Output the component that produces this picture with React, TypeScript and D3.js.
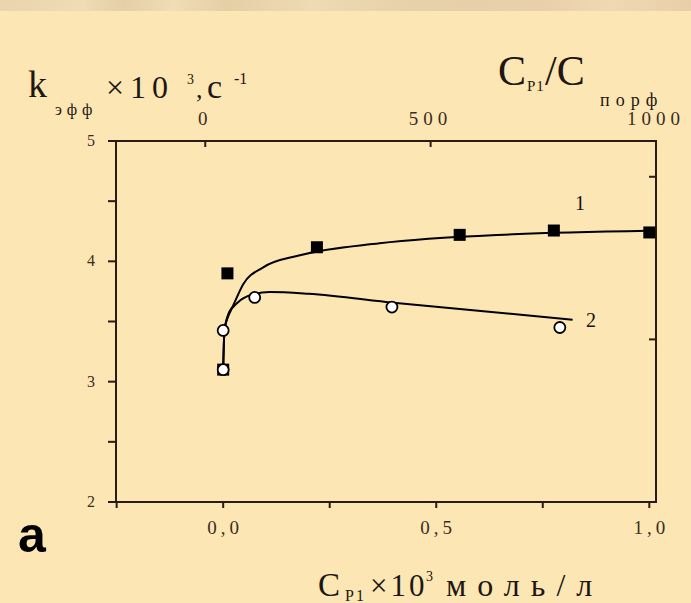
import React from "react";
import * as d3 from "d3";

// Measured points: curve 1 (filled squares) and curve 2 (open circles)
const series1X = [0, 0.01, 0.22, 0.555, 0.776, 1.0];
const series1Y = [3.1, 3.9, 4.117, 4.22, 4.256, 4.24];
const series2X = [0, 0.0, 0.074, 0.396, 0.79];
const series2Y = [3.1, 3.426, 3.7, 3.62, 3.45];

// Fitted trend lines drawn through the measurements
const fit1X = [0, 0.003, 0.01, 0.023, 0.047, 0.094, 0.18, 0.367, 0.68, 1.0];
const fit1Y = [3.1, 3.42, 3.54, 3.63, 3.81, 3.95, 4.05, 4.15, 4.225, 4.255];
const fit2X = [0, 0.003, 0.015, 0.035, 0.065, 0.11, 0.2, 0.4, 0.82];
const fit2Y = [3.1, 3.43, 3.57, 3.66, 3.72, 3.745, 3.73, 3.655, 3.515];

// Axis ticks
const leftTicks = [2, 3, 4, 5];
const leftMinor = [2.5, 3.5, 4.5];
const bottomTicks = [-0.25, 0, 0.25, 0.5, 0.75, 1.0];
const bottomLabels = [0, 0.5, 1.0];
const topTicks = [0, 500, 1000];
const rightTicks = [0, 1, 2];

const W = 691;
const H = 603;
const plot = { left: 116, right: 656, top: 141, bottom: 502 };
const ink = "#2a1c14";
const bg = "#fce6b3";

export default function App() {
  const x = d3.scaleLinear().domain([-0.2515, 1.0157]).range([plot.left, plot.right]);
  const xTop = d3.scaleLinear().domain([-198, 1000]).range([plot.left, plot.right]);
  const y = d3.scaleLinear().domain([2, 5]).range([plot.bottom, plot.top]);
  const yRight = d3.scaleLinear().domain([0, 2.22]).range([plot.bottom, plot.top]);

  const line = d3
    .line<[number, number]>()
    .x((d) => x(d[0]))
    .y((d) => y(d[1]))
    .curve(d3.curveMonotoneX);

  const fit1 = fit1X.map((v, i) => [v, fit1Y[i]] as [number, number]);
  const fit2 = fit2X.map((v, i) => [v, fit2Y[i]] as [number, number]);

  const fmtComma = (v: number) => d3.format(".1f")(v).replace(".", ",");
  const serif = "'Liberation Serif', 'Times New Roman', serif";

  return (
    <svg
      width={W}
      height={H}
      style={{ position: "absolute", left: 0, top: 0, display: "block" }}
      fontFamily={serif}
    >
      <defs>
        <linearGradient id="strip" x1="0" x2="1" y1="0" y2="0">
          <stop offset="0" stopColor="#e9d4ad" />
          <stop offset="0.12" stopColor="#efdbb4" />
          <stop offset="0.18" stopColor="#e4cfa6" />
          <stop offset="0.25" stopColor="#f0dcb5" />
          <stop offset="0.33" stopColor="#e5cfa5" />
          <stop offset="0.45" stopColor="#eedab3" />
          <stop offset="0.6" stopColor="#e6d1a8" />
          <stop offset="0.78" stopColor="#e9d0ab" />
          <stop offset="0.88" stopColor="#f0d8b3" />
          <stop offset="1" stopColor="#e8cfa8" />
        </linearGradient>
      </defs>
      <rect x={0} y={0} width={W} height={H} fill={bg} />
      <rect x={0} y={0} width={W} height={11} fill="url(#strip)" />

      {/* frame */}
      <rect
        x={plot.left}
        y={plot.top}
        width={plot.right - plot.left}
        height={plot.bottom - plot.top}
        fill="none"
        stroke={ink}
        strokeWidth={2}
      />

      {/* left axis ticks (outward) */}
      {leftTicks.concat(leftMinor).map((t) => (
        <line key={"l" + t} x1={plot.left - 8} x2={plot.left} y1={y(t)} y2={y(t)} stroke={ink} strokeWidth={2} />
      ))}
      {leftTicks.map((t) => (
        <text key={"lt" + t} x={plot.left - 25} y={y(t) + 5} fontSize={16} fill="#3b2d24" textAnchor="middle">
          {t}
        </text>
      ))}

      {/* bottom axis ticks (outward) */}
      {bottomTicks.map((t) => (
        <line key={"b" + t} x1={x(t)} x2={x(t)} y1={plot.bottom} y2={plot.bottom + 6} stroke={ink} strokeWidth={2} />
      ))}
      {bottomLabels.map((t) => (
        <text key={"bt" + t} x={x(t) + 2} y={534} fontSize={19} fill="#3b2d24" textAnchor="middle" letterSpacing={4}>
          {fmtComma(t)}
        </text>
      ))}

      {/* top axis ticks (inward) */}
      {topTicks.map((t) => (
        <line key={"t" + t} x1={xTop(t)} x2={xTop(t)} y1={plot.top} y2={plot.top + 6} stroke={ink} strokeWidth={2} />
      ))}
      {topTicks.map((t) => (
        <text key={"tt" + t} x={xTop(t)} y={125} fontSize={19} fill="#3b2d24" textAnchor="middle" letterSpacing={5}>
          {t}
        </text>
      ))}

      {/* right axis ticks (inward) */}
      {rightTicks.map((t) => (
        <line key={"r" + t} x1={plot.right - 7} x2={plot.right} y1={yRight(t)} y2={yRight(t)} stroke={ink} strokeWidth={2} />
      ))}

      {/* fitted lines */}
      <path d={line(fit1) || ""} fill="none" stroke="#000" strokeWidth={2} />
      <path d={line(fit2) || ""} fill="none" stroke="#000" strokeWidth={2} />

      {/* series 1: filled squares */}
      {series1X.map((v, i) => (
        <rect key={"s1" + i} x={x(v) - 6} y={y(series1Y[i]) - 6} width={12} height={12} fill="#000" />
      ))}
      {/* series 2: open circles */}
      {series2X.map((v, i) => (
        <circle key={"s2" + i} cx={x(v)} cy={y(series2Y[i])} r={5.5} fill="#fff" stroke="#000" strokeWidth={1.8} />
      ))}

      {/* curve labels */}
      <text x={575} y={210} fontSize={20} fill="#111">1</text>
      <text x={586} y={327} fontSize={20} fill="#111">2</text>

      {/* y-axis title */}
      <text fill="#1e1614">
        <tspan x={28} y={97} fontSize={38}>k</tspan>
        <tspan x={55} y={115} fontSize={16} letterSpacing={5}>эфф</tspan>
        <tspan x={106} y={98} fontSize={32} letterSpacing={6}>×10</tspan>
        <tspan x={187} y={84} fontSize={14}>3</tspan>
        <tspan x={196} y={98} fontSize={26}>,</tspan>
        <tspan x={207} y={98} fontSize={34}>с</tspan>
        <tspan x={234} y={84} fontSize={16}>-1</tspan>
      </text>

      {/* top axis title */}
      <text fill="#1e1614">
        <tspan x={498} y={85} fontSize={42}>C</tspan>
        <tspan x={527} y={91} fontSize={15} letterSpacing={1}>P1</tspan>
        <tspan x={545} y={85} fontSize={42}>/C</tspan>
        <tspan x={600} y={106} fontSize={18} letterSpacing={6}>порф</tspan>
      </text>

      {/* bottom axis title */}
      <text fill="#1e1614">
        <tspan x={318} y={596} fontSize={33}>C</tspan>
        <tspan x={345} y={601} fontSize={16} letterSpacing={2}>P1</tspan>
        <tspan x={370} y={596} fontSize={31} letterSpacing={3}>×10</tspan>
        <tspan x={426} y={581} fontSize={14}>3</tspan>
        <tspan x={446} y={596} fontSize={32} letterSpacing={11}>моль/л</tspan>
      </text>

      {/* panel label */}
      <text x={18} y={552} fontSize={50} fontWeight="bold" fontFamily="'Liberation Sans', Arial, sans-serif" fill="#000">
        a
      </text>
    </svg>
  );
}
